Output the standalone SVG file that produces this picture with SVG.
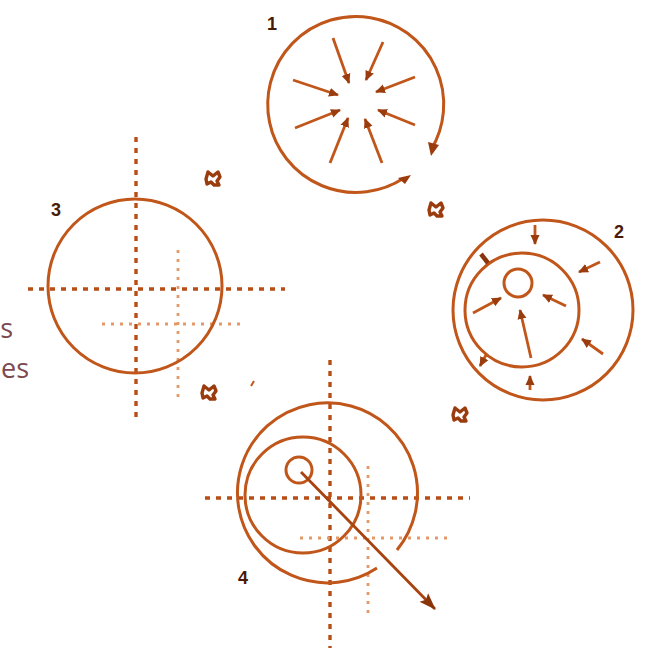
<svg xmlns="http://www.w3.org/2000/svg" width="650" height="648" viewBox="0 0 650 648">
<defs>
<marker id="ah" markerWidth="12" markerHeight="12" refX="9" refY="5.5" orient="auto" markerUnits="userSpaceOnUse">
<path d="M0,1 L10,5.5 L0,10 Z" fill="#9a3c0e"/>
</marker>
<marker id="ahL" markerWidth="18" markerHeight="14" refX="16" refY="7" orient="auto" markerUnits="userSpaceOnUse">
<path d="M0,1 L17,7 L0,13 L3,7 Z" fill="#8a340c"/>
</marker>
<style>
.c{fill:none;stroke:#c0561a;stroke-width:3}
.a{fill:none;stroke:#c0561a;stroke-width:2.8;marker-end:url(#ah)}
.d{fill:none;stroke:#b84e16;stroke-width:3.4;stroke-dasharray:5 6}
.l{fill:none;stroke:#e39a68;stroke-width:2.8;stroke-dasharray:3 6}
.lab{font-family:"Liberation Sans",Arial,sans-serif;font-weight:bold;font-size:18px;fill:#4a1a08}
.sym{fill:none;stroke:#9a3c0e;stroke-width:3.4;stroke-linejoin:round}
.txt{font-family:"Open Sans","Liberation Sans",sans-serif;font-size:27px;fill:#7a4a50}
</style>
</defs>
<rect width="650" height="648" fill="#ffffff"/>

<g id="sidetext">
<text class="txt" x="13" y="338" text-anchor="end">s</text>
<text class="txt" x="29" y="378" text-anchor="end">es</text>
</g>

<g id="fig1">
<path class="c" d="M431,150 A88,88 0 1 0 404,178"/>
<path d="M428,142 L439,145 L431,156 Z" fill="#9a3c0e"/>
<path d="M411,175 L398,178 L405,184 Z" fill="#9a3c0e"/>
<text class="lab" x="267" y="30">1</text>
<g id="rays1">
<path class="a" d="M333,38 L349,83"/>
<path class="a" d="M383,42 L366,80"/>
<path class="a" d="M293,80 L338,95"/>
<path class="a" d="M415,77 L376,92"/>
<path class="a" d="M295,128 L340,110"/>
<path class="a" d="M415,125 L378,110"/>
<path class="a" d="M330,163 L348,118"/>
<path class="a" d="M382,163 L365,119"/>
</g>
</g>

<g id="fig2">
<circle class="c" cx="543" cy="310" r="90"/>
<circle class="c" cx="522" cy="310" r="57"/>
<circle class="c" cx="518" cy="283" r="14"/>
<path d="M481,254 L488,263" stroke="#8a340c" stroke-width="4.5"/>
<text class="lab" x="614" y="238">2</text>
<path class="a" d="M535,225 L535,244"/>
<path class="a" d="M600,262 L579,272"/>
<path class="a" d="M603,354 L582,339"/>
<path class="a" d="M530,390 L530,376"/>
<path class="a" d="M486,355 L480,366"/>
<path class="a" d="M473,313 L501,298"/>
<path class="a" d="M566,306 L543,295"/>
<path class="a" d="M531,358 L520,310"/>
</g>

<g id="fig3">
<line class="d" x1="136" y1="137" x2="136" y2="420"/>
<line class="d" x1="28" y1="289" x2="285" y2="289"/>
<line class="l" x1="178" y1="250" x2="178" y2="398"/>
<line class="l" x1="102" y1="324" x2="244" y2="324"/>
<circle class="c" cx="135" cy="286" r="87"/>
<text class="lab" x="51" y="216">3</text>
</g>

<g id="fig4">
<line class="d" x1="330" y1="360" x2="330" y2="648"/>
<line class="d" x1="205" y1="498" x2="470" y2="498"/>
<line class="l" x1="368" y1="466" x2="368" y2="616"/>
<line class="l" x1="300" y1="538" x2="448" y2="538"/>
<path class="c" d="M397,550 A90,90 0 1 0 377,568"/>
<circle class="c" cx="303" cy="495" r="58"/>
<circle class="c" cx="299" cy="470" r="13"/>
<path fill="none" stroke="#a8420f" stroke-width="2.8" marker-end="url(#ahL)" d="M301,472 L435,609"/>
<text class="lab" x="238" y="584">4</text>
</g>

<g id="marks">
<path class="sym" d="M208,172 l5,4 l5,-4 l2,5 l-3,4 l2,4 l-5,0 l-3,-3 l-4,2 l-1,-5 z"/>
<path class="sym" d="M431,203 l5,4 l5,-4 l2,5 l-3,4 l2,4 l-5,0 l-3,-3 l-4,2 l-1,-5 z"/>
<path class="sym" d="M204,386 l5,4 l5,-4 l2,5 l-3,4 l2,4 l-5,0 l-3,-3 l-4,2 l-1,-5 z"/>
<path class="sym" d="M455,408 l5,4 l5,-4 l2,5 l-3,4 l2,4 l-5,0 l-3,-3 l-4,2 l-1,-5 z"/>
<path d="M251,386 L254,381" stroke="#c0561a" stroke-width="2"/>
</g>
</svg>
